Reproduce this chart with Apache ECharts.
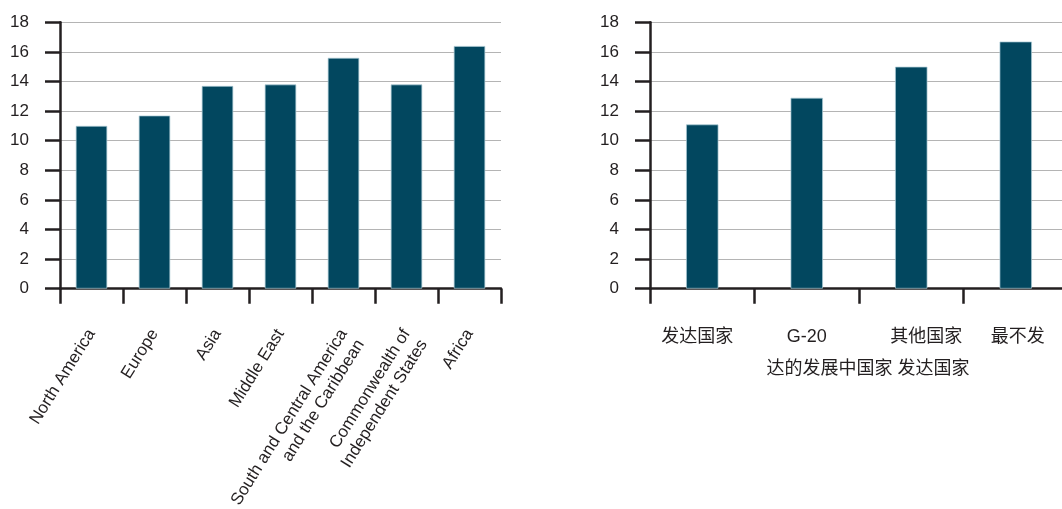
<!DOCTYPE html>
<html><head><meta charset="utf-8">
<script src="https://cdn.jsdelivr.net/npm/echarts@6/dist/echarts.min.js"></script>
<style>html,body{margin:0;padding:0;background:#fff}#c{width:1062px;height:509px}</style>
</head><body><div id="c"></div>
<script>
const regionCategories = ['North America', 'Europe', 'Asia', 'Middle East', 'South and Central America\nand the Caribbean', 'Commonwealth of\nIndependent States', 'Africa'];
const regionValues = [11.0, 11.7, 13.7, 13.8, 15.6, 13.8, 16.4];
const groupCategories = ['发达国家', 'G-20', '其他国家', '最不发'];
const groupValues = [11.1, 12.9, 15.0, 16.7];
const groupAxisName = '达的发展中国家 发达国家';
const yMin = 0, yMax = 18, yStep = 2;

// label horizontal nudges (style only, px)
const groupLabelNudge = [-5, 0, 15, 2];

const FONT = '"Liberation Sans", Arial, "Noto Sans CJK SC", sans-serif';
const INK = '#231f20';
const BAR = '#02475f';

const chart = echarts.init(document.getElementById('c'), null, {renderer: 'canvas'});

function yAxis(gi) {
  return {
    type: 'value', gridIndex: gi, min: yMin, max: yMax, interval: yStep,
    axisLine: {show: true, lineStyle: {color: INK, width: 2.5}},
    axisTick: {show: true, length: 15, lineStyle: {color: INK, width: 2.5}},
    axisLabel: {margin: 31, color: INK, fontSize: 17, fontFamily: FONT},
    splitLine: {show: true, lineStyle: {color: '#b4b4b4', width: 1}}
  };
}

const groupAxisData = groupCategories.map((c, i) => {
  const n = groupLabelNudge[i];
  return {value: c, textStyle: {padding: n >= 0 ? [0, 0, 0, 2 * n] : [0, -2 * n, 0, 0]}};
});

chart.setOption({
  animation: false,
  grid: [
    {left: 60, top: 22.3, width: 441, bottom: 220.3, outerBoundsMode: 'none', containLabel: false},
    {left: 650, top: 22.3, right: -6, bottom: 220.3, outerBoundsMode: 'none', containLabel: false}
  ],
  xAxis: [
    {
      type: 'category', gridIndex: 0, data: regionCategories,
      axisLine: {show: true, lineStyle: {color: INK, width: 2.5}},
      axisTick: {show: true, length: 15, lineStyle: {color: INK, width: 2.5}},
      axisLabel: {
        interval: 0, rotate: 58, margin: 42, color: INK, fontSize: 17, lineHeight: 20, fontFamily: FONT, hideOverlap: false,
        // keep the first line of two-line labels on the tick anchor
        formatter: v => v.indexOf('\n') >= 0 ? ' \n' + v : v
      }
    },
    {
      type: 'category', gridIndex: 1, data: groupAxisData,
      name: groupAxisName, nameLocation: 'middle', nameGap: 71,
      nameTextStyle: {color: INK, fontSize: 18, fontFamily: FONT, padding: [0, 0, 0, 18]},
      axisLine: {show: true, lineStyle: {color: INK, width: 2.5}},
      axisTick: {show: true, length: 15, lineStyle: {color: INK, width: 2.5}},
      axisLabel: {interval: 0, margin: 39, color: INK, fontSize: 18, fontFamily: FONT}
    }
  ],
  yAxis: [yAxis(0), yAxis(1)],
  series: [
    {type: 'bar', xAxisIndex: 0, yAxisIndex: 0, data: regionValues, barWidth: '50%',
     itemStyle: {color: BAR, borderColor: 'rgba(170,200,212,0.9)', borderWidth: 0.8}},
    {type: 'bar', xAxisIndex: 1, yAxisIndex: 1, data: groupValues, barWidth: '31%',
     itemStyle: {color: BAR, borderColor: 'rgba(170,200,212,0.9)', borderWidth: 0.8}}
  ]
});
</script></body></html>
